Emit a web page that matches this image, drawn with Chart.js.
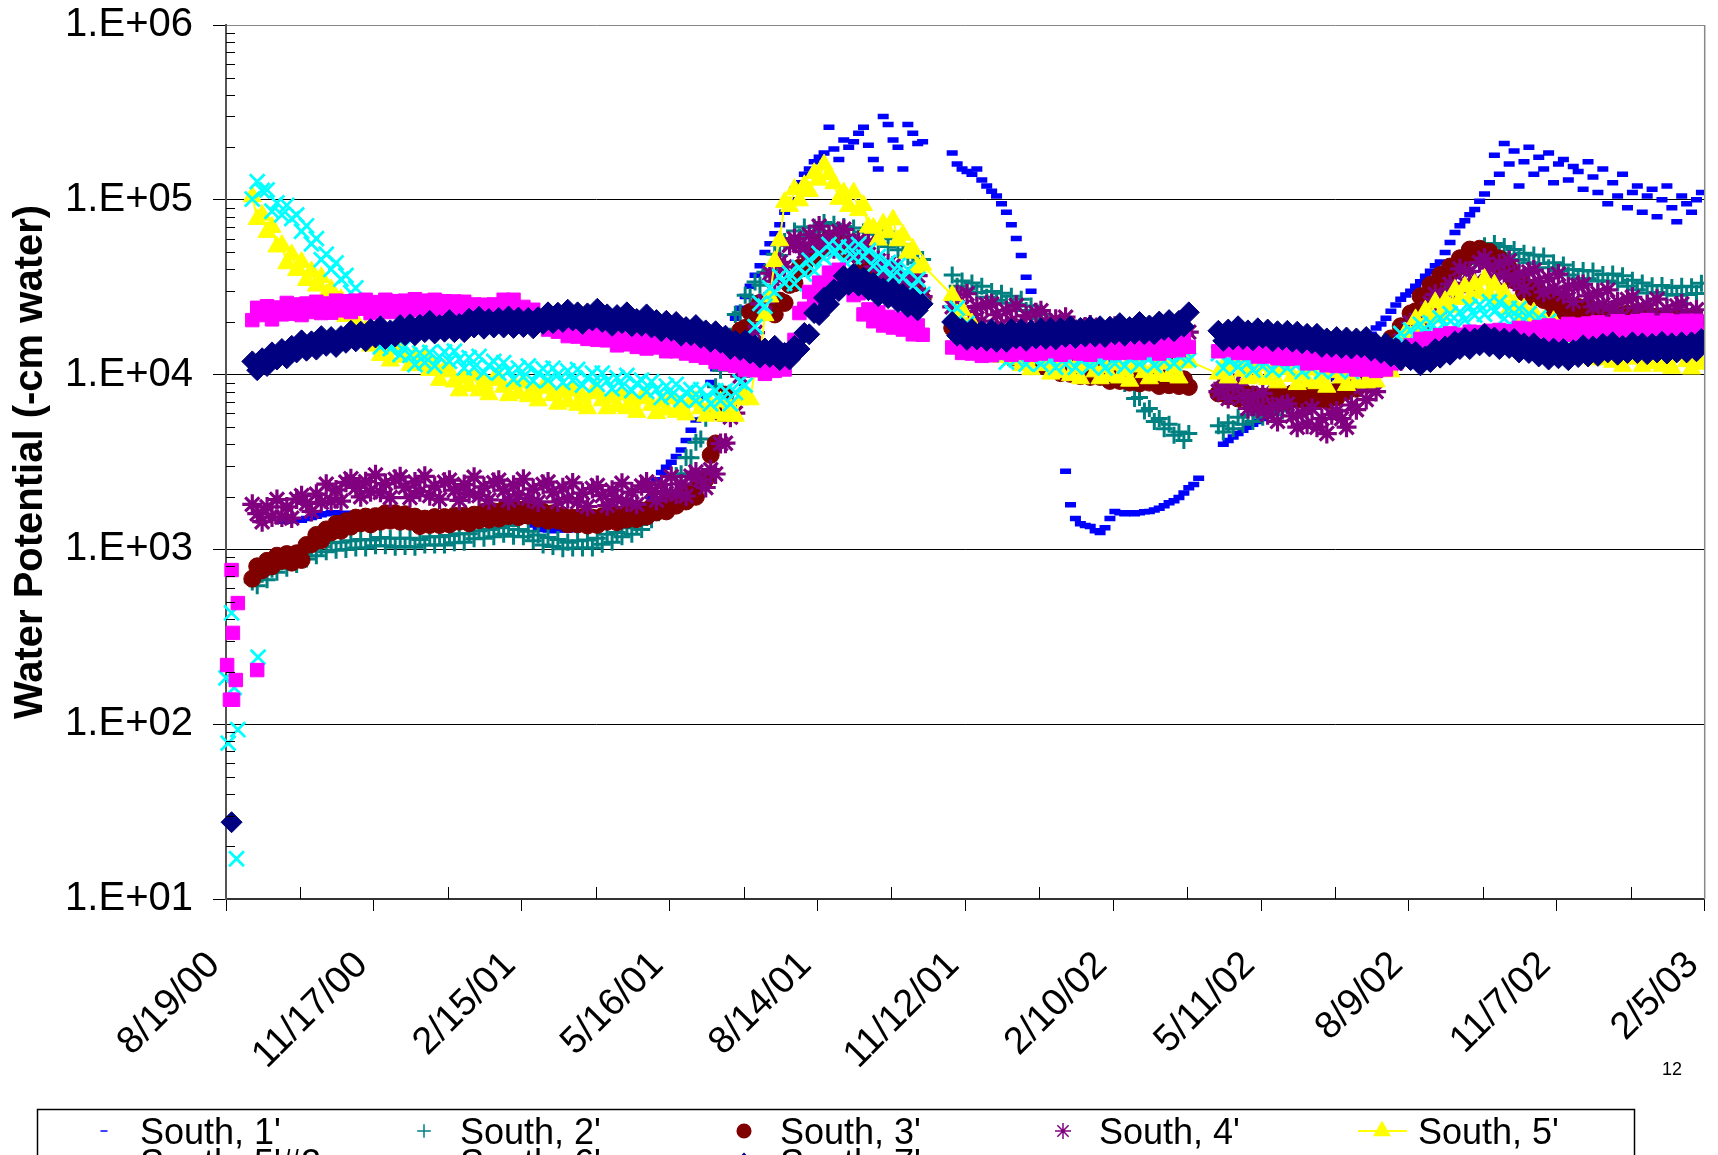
<!DOCTYPE html>
<html>
<head>
<meta charset="utf-8">
<title>Water Potential - South</title>
<script src="https://cdn.jsdelivr.net/npm/chart.js@4.4.1/dist/chart.umd.min.js"></script>
<style>
  html, body { margin: 0; padding: 0; background: #ffffff; }
  canvas { display: block; }
</style>
</head>
<body>
<canvas id="chart" width="1718" height="1155"></canvas>
<script>
// Day 0 is 8/19/00. Readings are stored one value per 3 days.
const READ_FIRST = 16, READ_STEP = 3;
const S1_FIRST = 34, S1_STEP = 3;

const xTickDays = [0, 90, 180, 270, 360, 450, 540, 630, 720, 810, 900];
const xTickLabels = ['8/19/00', '11/17/00', '2/15/01', '5/16/01', '8/14/01', '11/12/01',
                     '2/10/02', '5/11/02', '8/9/02', '11/7/02', '2/5/03'];
const yTickValues = [10, 100, 1000, 10000, 100000, 1000000];
const yTickLabels = ['1.E+01', '1.E+02', '1.E+03', '1.E+04', '1.E+05', '1.E+06'];
const seriesNames = ["South, 1'", "South, 2'", "South, 3'", "South, 4'", "South, 5'",
                     "South, 5'#2", "South, 6'", "South, 7'"];

// South, 1' (from day 34)
const south1 = [
  1450,1450,1460,1480,1470,1500,1520,1550,1580,1600,
  1620,1620,1600,1610,1590,1570,1560,1540,1520,1500,
  1500,1490,1500,1510,1520,1530,1540,1550,1560,1570,
  1580,1590,1600,1600,1610,1610,1600,1600,1610,1600,
  1590,1600,1610,1620,1640,1650,1650,1620,1580,1520,
  1450,1380,1330,1300,1290,1280,1290,1300,1290,1300,
  1310,1320,1330,1350,1380,1420,1460,1500,1540,1580,
  1620,1650,1680,1700,1720,2000,2500,2750,2950,3150,
  3400,3700,4200,4800,5500,6300,7500,9000,10800,12500,
  14500,17000,21000,24000,28000,32000,37000,42000,50000,56000,
  64000,72000,85000,100000,115000,125000,140000,150000,165000,175000,
  185000,260000,195000,170000,220000,200000,215000,240000,260000,205000,
  170000,150000,300000,270000,220000,200000,150000,270000,240000,210000,
  215000,null,null,null,null,null,185000,160000,150000,145000,
  140000,150000,130000,120000,112000,105000,95000,85000,72000,60000,
  48000,36000,30000,null,null,null,null,null,null,2800,
  1800,1500,1400,1370,1350,1280,1250,1330,1500,1650,
  1620,1600,1620,1600,1620,1640,1650,1680,1720,1780,
  1850,1900,1980,2100,2250,2350,2550,null,null,null,
  null,4000,4200,4400,4600,4800,5000,5200,5400,5600,
  5900,6200,6600,7000,7500,8000,8300,8500,8700,8800,
  9000,9200,9400,9600,9900,10200,10600,11000,11800,13000,
  15000,17000,18500,19500,21000,23000,25000,27000,28500,30000,
  32000,34000,36500,39000,42000,44000,50000,57000,65000,71000,
  76000,82000,88000,98000,108000,125000,180000,140000,210000,160000,
  190000,120000,165000,200000,140000,175000,150000,185000,125000,160000,
  170000,130000,155000,145000,115000,165000,135000,110000,150000,95000,
  125000,105000,140000,90000,110000,120000,85000,105000,115000,80000,
  100000,120000,90000,75000,105000,95000,85000,100000,110000
];

// South, 2' (from day 16)
const south2 = [
  650,620,720,670,770,740,850,780,890,820,
  950,880,1010,920,1040,970,1090,990,1100,1000,
  1120,1020,1140,1020,1130,1050,1170,1050,1160,1030,
  1160,1040,1160,1030,1140,1060,1180,1060,1180,1060,
  1200,1090,1230,1100,1230,1150,1280,1160,1300,1180,
  1330,1220,1370,1190,1300,1180,1270,1120,1210,1060,
  1170,1040,1140,1010,1100,1020,1120,1020,1130,1020,
  1160,1070,1220,1100,1250,1180,1330,1220,1390,1300,
  1520,1480,1780,1730,2080,2160,2650,2710,3360,3340,
  4100,4280,5620,6200,8530,10600,14800,16600,22100,22600,
  28400,28000,33900,32400,38500,39800,48800,48000,57800,55500,
  66200,61300,70000,62500,69700,65800,74200,66000,72500,63900,
  70400,62700,68900,60200,65500,59000,63600,56100,60900,54100,
  59900,51800,55100,47000,49900,43700,45600,null,null,null,
  null,null,37100,32000,34300,30900,33400,29500,32000,27700,
  29900,26600,29200,25600,28100,25200,27000,23300,24700,20900,
  22100,19000,20100,16900,17700,15600,16400,14000,14700,12700,
  13700,11900,12700,10800,11400,10200,10800,8900,9000,7300,
  7400,6200,6400,5400,5600,4900,5200,4500,4700,4200,
  4600,null,null,null,null,null,5100,4700,5300,4900,
  5700,5200,5900,5400,6000,5700,6400,5900,6700,6200,
  7100,6700,7600,7000,7900,7500,8500,7700,8700,7800,
  8700,8000,9000,8200,9400,9100,10600,10000,11600,11000,
  13100,12500,14800,14600,17700,18200,22300,21900,26300,25400,
  30500,29500,35000,33400,39500,38900,45600,43200,50400,47000,
  54600,49900,56200,49400,54100,48500,51900,45600,49400,43700,
  48300,43200,47700,40900,43700,39400,42400,37100,39900,35400,
  39400,35300,39200,34300,37400,34300,37600,33400,36800,32000,
  34700,30600,33400,29300,32200,29500,32300,28700,31500,28400,
  32000,28700,31800,29100,33300
];

// South, 3'
const south3 = [
  680,800,760,860,800,920,860,940,840,950,
  870,1060,1070,1210,1130,1300,1250,1400,1280,1450,
  1350,1520,1410,1540,1390,1550,1440,1610,1460,1610,
  1440,1590,1440,1540,1360,1500,1380,1530,1380,1530,
  1390,1560,1440,1560,1410,1580,1470,1640,1480,1650,
  1500,1690,1550,1700,1530,1690,1560,1700,1500,1640,
  1460,1610,1460,1560,1390,1520,1390,1530,1370,1520,
  1380,1550,1440,1580,1430,1590,1480,1650,1490,1670,
  1540,1750,1630,1810,1650,1870,1780,2020,1880,2140,
  2000,2440,2520,3470,4040,6030,7680,11700,13800,17900,
  18500,22800,22300,25700,24000,25000,22100,26500,25700,32600,
  33300,40800,40700,48300,47000,55100,53800,59900,54200,58300,
  51300,55700,49500,51500,44200,46800,41300,43500,37100,38900,
  33300,35500,31000,32600,28200,30200,26900,null,null,null,
  null,null,18500,19600,16900,17900,15800,17000,14700,15900,
  14100,15300,13600,14300,12500,13500,12300,13300,11700,12600,
  11200,12200,11000,11600,10200,11000,10100,11000,9800,10800,
  9700,10700,9700,10400,9200,10100,9200,10100,9000,9900,
  8900,9900,9000,9700,8600,9500,8700,9600,8600,9400,
  8500,null,null,null,null,null,7800,8500,7500,8200,
  7300,8000,7200,7700,6800,7500,6900,7700,6900,7700,
  7000,7800,7200,7700,6900,7600,7100,7900,7100,7900,
  7400,8500,8000,8900,8300,9500,9100,10800,10500,13100,
  13300,16100,16000,18900,18300,22400,23000,28100,27600,32600,
  31400,37100,35900,41500,39500,46300,45100,51900,48500,52500,
  46600,50400,44600,46200,39500,40600,34600,35500,29500,31500,
  27600,29900,26700,27500,23500,25500,23000,25100,22300,24400,
  21900,24400,22300,23300,20200,21800,19700,21900,20000,22300,
  20400,22800,20900,22300,19700,21500,19700,21700,19500,21200,
  19000,21200,19400,20000,16900
];

// South, 4'
const south4 = [
  1810,1600,1440,1750,1530,1930,1530,1750,1510,1940,
  2030,1830,1650,2070,1860,2360,1890,2190,1890,2420,
  2540,2260,2000,2440,2140,2670,2120,2380,1980,2510,
  2600,2270,1980,2430,2140,2620,2030,2300,1940,2420,
  2490,2180,1910,2350,2090,2590,2030,2280,1920,2410,
  2490,2180,1910,2330,2050,2520,1960,2220,1870,2350,
  2430,2130,1870,2250,1950,2400,1870,2100,1760,2230,
  2320,2030,1780,2180,1930,2390,1870,2130,1810,2310,
  2430,2150,1910,2350,2090,2610,2070,2370,2020,2620,
  2770,2490,2260,2860,2700,4030,4050,5710,6020,9810,
  13600,15800,17400,25400,26000,38000,34200,43900,41300,55000,
  59900,54900,50500,63100,56700,70700,55800,62700,52500,65900,
  67800,57900,49600,58300,49300,56900,41400,44900,36100,43100,
  41800,35600,30500,36000,30700,36800,27900,null,null,null,
  null,null,24400,28600,24200,29000,22100,24500,20200,25100,
  25400,22000,19100,23200,20300,24900,19400,21700,18100,22600,
  23200,20000,17400,20700,17700,21300,16200,18100,15100,18700,
  19200,16700,14600,17600,15300,18900,14700,16600,13900,17500,
  18100,15800,13900,16900,14700,18200,14200,16000,13300,16900,
  17500,null,null,null,null,null,8000,8900,7300,8900,
  8800,7500,6400,7500,6400,7800,5900,6600,5400,6700,
  6800,5800,5000,6000,5200,6400,5000,5600,4600,5900,
  6200,5600,5000,6700,6300,8500,7200,8900,8000,11300,
  13000,12400,11700,15600,14900,19800,16700,20400,18500,25600,
  28800,26900,25200,32900,30700,40300,33300,39000,34000,43800,
  46300,40600,35700,42900,37200,44900,34200,37700,31000,38700,
  39600,34200,29600,35700,31200,37600,28800,31800,26200,32400,
  32800,28200,24400,29200,25100,30500,23400,26000,21500,26900,
  27700,24000,20900,25100,21900,27000,21200,23700,19800,24700,
  25400,22300,19600,23500,20500
];

// South, 5'
const south5 = [
  104500,77400,81900,65300,69800,53900,55100,43200,48600,39500,
  44000,34700,38900,32200,36000,28800,30700,24300,27000,21600,
  23400,20300,17100,17900,14600,16200,12900,14000,12000,14100,
  14200,12600,11300,12800,11300,12900,10600,11200,9300,10700,
  10400,9100,8100,9600,8600,9900,8100,8900,7700,9300,
  9500,8500,7600,8800,7800,9000,7500,8200,7100,8400,
  8400,7600,6800,7900,7000,8100,6700,7400,6400,7800,
  8000,7100,6400,7400,6600,7700,6400,7100,6100,7300,
  7400,6700,6000,7000,6300,7300,6100,6700,5900,7000,
  7100,6400,5800,6700,6000,7000,5800,6500,5800,7200,
  7700,7200,10500,12900,21800,27900,44500,58500,97000,92000,
  115000,99000,121000,112000,142000,130000,159000,140000,124000,101000,
  110000,92000,110000,87000,93000,70000,69000,59000,73000,65000,
  77000,58500,63000,49700,52300,40900,42400,null,null,null,
  null,null,28400,22100,23400,18600,19600,15800,17800,14800,
  16400,14400,12600,14200,12200,13900,11300,12300,10700,12600,
  12600,11300,10100,11700,10300,12000,9900,11000,9500,11400,
  11600,10400,9500,11000,9800,11400,9600,10600,9200,11100,
  11300,10300,9500,11000,9900,11600,9800,10900,9600,11700,
  12000,null,null,null,null,null,10100,11100,9600,11500,
  11700,10500,9500,10900,9700,11300,9400,10400,9000,10700,
  10800,9800,8800,10200,9100,10700,8900,9800,8500,10300,
  10600,9600,8700,10100,9000,10700,9000,10200,9100,11200,
  11900,10400,13100,12900,17400,16700,20700,18500,23200,21200,
  25900,21800,26300,24400,30500,27000,31800,27200,32900,29300,
  35200,28400,32600,26700,29400,23700,25400,20700,23800,19900,
  22600,18000,20500,17500,20200,16300,17500,14100,16200,13600,
  15300,13600,12200,13900,12200,14200,11800,13000,11200,13400,
  13600,12300,11200,13000,11600,13500,11200,12400,10900,12900,
  13100,11900,10800,12700,11500
];

// South, 5'#2
const south5b = [
  101000,127000,113000,114000,86000,96000,82000,93000,78000,82000,
  66000,71000,56000,60000,45500,48800,40000,43600,35200,36900,
  29400,31300,24400,24000,17300,18000,14400,16600,14100,15400,
  13000,14600,12900,11400,13300,11700,13400,11200,12600,13500,
  11900,13600,12300,10900,12500,11000,12700,10300,11300,11900,
  10200,11700,10500,9400,10900,9700,11200,9200,10200,10800,
  9300,10900,10000,9000,10500,9300,10700,8700,9600,10200,
  8800,10200,9200,8300,9600,8600,9900,8100,8900,9300,
  8000,9100,8200,7400,8600,7600,8800,7200,7900,8200,
  7100,8200,7400,6800,8100,7100,8100,6800,7900,9100,
  8700,15100,18800,25600,24600,31300,29800,36500,33300,38000,
  33100,41000,37600,45200,39100,49300,46500,55600,49400,54000,
  45100,53500,47000,55600,47300,51400,41900,47400,39900,43900,
  36800,42100,35700,39800,31900,35000,28800,null,null,null,
  null,null,22600,24000,18200,19600,15800,17400,14300,15500,
  13000,14700,13200,11800,13800,12200,14000,11500,12600,13300,
  11500,13300,12200,11000,12900,11500,13300,11000,12200,12900,
  11200,13000,12000,10900,12900,11600,13500,11200,12400,13200,
  11500,13400,12400,11300,13400,12000,14000,11600,12900,13800,
  12100,null,null,null,null,null,13200,10900,12100,12800,
  11100,12800,11700,10600,12500,11200,12900,10600,11700,12500,
  10900,12600,11500,10400,12200,10900,12700,10400,11500,12300,
  10700,12400,11400,10400,12300,11100,13000,11000,12600,13900,
  12400,15300,14100,17200,15000,18000,16300,19400,17100,19800,
  17500,21100,18800,22300,19100,22800,20500,24500,21900,25100,
  22100,26100,23000,25900,20900,23900,20500,23800,20400,22300,
  18400,21100,17900,20200,16400,18600,15800,18200,15700,17300,
  14900,17000,15300,13800,16100,14300,16500,13700,15200,16100,
  14000,16300,15000,13700,16100,14500,16800,14000,15700,16700,
  14700,17200,15800,14600,17500
];

// South, 6'
const south6 = [
  20500,24100,21900,24600,20700,24200,22100,25700,22300,25200,
  21900,25500,22800,26100,22500,25500,22600,26500,23300,26300,
  22800,26500,23800,26800,22500,26000,23500,26800,22800,26300,
  23300,26500,23300,27000,23500,26500,23500,26800,22800,26300,
  23300,26200,22800,26100,22500,25200,22100,25100,21400,25200,
  22800,26800,24200,26800,22100,24400,21200,23500,19500,21400,
  18100,20300,17600,19700,16600,18600,16500,18700,16000,18100,
  15800,17900,15700,17500,14700,16700,14900,16800,14400,16200,
  14100,16200,14300,16100,13600,15300,13600,15400,13200,14800,
  12800,14400,12500,14000,11800,13100,11500,13100,11200,12400,
  10700,12100,10600,12000,10100,11700,10500,12200,10700,13800,
  15800,22500,23800,29700,27600,33600,32000,38300,34400,39800,
  35300,36400,28500,29200,22100,23600,20200,22700,19100,21400,
  18600,20900,18100,20200,17000,19100,16900,null,null,null,
  null,null,14300,15900,13300,14900,13200,15000,12800,14600,
  12900,15000,13300,15200,13000,14900,13300,15200,13000,14900,
  13200,15300,13600,15300,13000,14900,13400,15300,13200,14900,
  13000,15200,13600,15600,13300,15100,13300,15400,13400,15300,
  13300,15400,13800,15700,13200,15200,13700,15900,13800,16000,
  14400,null,null,null,null,null,13600,15800,13800,15400,
  13300,15100,13300,15000,12700,14300,12700,14500,12400,14000,
  12300,14000,12400,13800,11600,13100,11700,13300,11300,12800,
  11200,12700,11200,12600,10700,12100,10700,12200,10500,12100,
  10700,12600,11600,13800,12400,14700,13600,16000,14000,16100,
  14400,16800,15000,17200,14700,16900,15200,17600,15300,17500,
  15300,17800,15800,18000,15500,17700,16000,18500,16000,18300,
  16200,18700,16700,19100,16400,18800,16900,19500,16900,19300,
  17000,19600,17500,19900,17000,19500,17500,20200,17500,19900,
  17500,20200,18000,20500,17500,19800,17700,20400,17700,20100,
  17600,20300,18100,20300,17200
];

// South, 7'
const south7 = [
  11900,10600,12400,11200,13400,12200,14000,12400,14600,13400,
  15700,13700,15500,13900,16600,14600,16400,14400,16600,15200,
  17800,15500,17600,15500,18200,16300,18900,16000,17900,16500,
  19200,16800,19400,16800,19300,17500,20300,17200,19200,17600,
  20500,17500,19500,17500,20900,18600,21400,18300,20800,18600,
  21100,18600,21500,18500,21200,18700,21100,18400,21300,19500,
  22700,19700,22600,20000,23500,20400,22700,19500,22400,20400,
  23800,20000,22100,19000,21900,19700,22700,18900,20800,19000,
  22100,18600,20500,17700,20300,17800,20000,16700,18700,16800,
  19200,16200,17900,15400,17700,15200,16700,14000,15600,13800,
  15700,13200,14700,12500,14100,12600,14600,12100,13300,12200,
  14600,14000,17300,17000,22500,21900,27500,25300,30700,30100,
  36700,32600,37800,32200,35800,30400,33500,28100,31200,27400,
  30800,26000,28900,24400,27300,23300,25400,null,null,null,
  null,null,20000,16700,18400,15800,18200,15900,17800,15600,
  18100,15400,17300,15400,18200,16100,18100,15600,17900,16100,
  18400,16000,18400,15900,18400,16400,18900,16200,18500,16500,
  18900,16500,18900,16400,18800,17000,19700,16700,18700,17100,
  20000,17000,19100,17000,20100,18000,20500,17700,20300,18800,
  22700,null,null,null,null,null,17800,15600,18100,15900,
  18900,16000,17900,15700,18400,16200,18100,15500,17700,15800,
  17800,15400,17600,15100,17100,15100,17100,14400,16100,14400,
  16400,14200,16300,14100,16100,14300,16400,13700,15100,13300,
  15100,12700,14200,12100,13900,12100,13500,11300,12700,11800,
  14000,12500,14500,13000,15500,14000,16200,14000,16100,14700,
  17100,14500,16300,14000,16100,14200,16000,13400,15100,13300,
  15100,12700,14200,12200,14100,12400,14000,12100,13800,12600,
  14700,12700,14500,12800,15000,13400,15300,13000,14600,13300,
  15300,13300,15100,13100,15000,13400,15400,13200,15100,13400,
  15300,13400,15300,13600,16000
];

// First readings after installation: [day, value]
const south5bEarly = [[0, 184], [1.3, 78], [3.4, 433], [5, 162], [6.4, 17], [7.2, 93], [19.5, 242]];
const south6Early = [[0.7, 218], [2.4, 138], [3.4, 762], [4.2, 333], [4.3, 138], [6, 179], [7.2, 493], [19, 204]];
const south7Early = [[3.4, 27.5]];

// Marker look per series, in legend order
const seriesStyle = [
  { color: '#0000FF', pointStyle: 'line',     radius: 5.5,  borderWidth: 5.5, order: 8 },
  { color: '#008080', pointStyle: 'cross',    radius: 8.5,  borderWidth: 3,   order: 7 },
  { color: '#800000', pointStyle: 'circle',   radius: 8.5,  borderWidth: 1,   order: 6 },
  { color: '#800080', pointStyle: 'star',     radius: 10,   borderWidth: 3.2, order: 5 },
  { color: '#FFFF00', pointStyle: 'triangle', radius: 10.5, borderWidth: 1,   order: 4, line: true },
  { color: '#00FFFF', pointStyle: 'crossRot', radius: 10.5, borderWidth: 2.8, order: 3 },
  { color: '#FF00FF', pointStyle: 'rect',     radius: 9.5,  borderWidth: 1,   order: 2 },
  { color: '#000080', pointStyle: 'rectRot',  radius: 10.5, borderWidth: 1,   order: 1 }
];

function onGrid(values, first, step) {
  return values.map((v, i) => ({ x: first + i * step, y: v }));
}
function pairs(list) {
  return list.map(([d, v]) => ({ x: d, y: v }));
}

const seriesData = [
  onGrid(south1, S1_FIRST, S1_STEP),
  onGrid(south2, READ_FIRST, READ_STEP),
  onGrid(south3, READ_FIRST, READ_STEP),
  onGrid(south4, READ_FIRST, READ_STEP),
  onGrid(south5, READ_FIRST, READ_STEP),
  pairs(south5bEarly).concat(onGrid(south5b, READ_FIRST, READ_STEP)),
  pairs(south6Early).concat(onGrid(south6, READ_FIRST, READ_STEP)),
  pairs(south7Early).concat(onGrid(south7, READ_FIRST, READ_STEP))
];

const datasets = seriesData.map((data, k) => {
  const s = seriesStyle[k];
  return {
    label: seriesNames[k],
    data: data,
    pointStyle: s.pointStyle,
    pointRadius: s.radius,
    pointHoverRadius: s.radius,
    pointBorderWidth: s.borderWidth,
    pointBackgroundColor: s.color,
    pointBorderColor: s.color,
    borderColor: s.color,
    backgroundColor: s.color,
    borderWidth: s.line ? 2 : 0,
    showLine: !!s.line,
    spanGaps: true,
    order: s.order,
    clip: { left: 30, top: 30, right: 0, bottom: 30 }
  };
});

const FONT = "'Liberation Sans', Arial, Helvetica, sans-serif";
Chart.defaults.font.family = FONT;
Chart.defaults.color = '#000000';

// Inside minor ticks, plot frame, legend box and page number
const decorations = {
  id: 'decorations',
  afterDraw(chart) {
    const { ctx, chartArea: a, scales: { x, y } } = chart;
    ctx.save();

    ctx.strokeStyle = '#000000';
    ctx.lineWidth = 1;
    ctx.beginPath();
    for (let d = 10; d < 1e6; d *= 10) {
      for (let k = 2; k <= 9; k++) {
        const py = Math.round(y.getPixelForValue(k * d)) + 0.5;
        ctx.moveTo(a.left, py);
        ctx.lineTo(a.left + 9, py);
      }
    }
    for (let m = 45; m < 900; m += 90) {
      const px = Math.round(x.getPixelForValue(m)) + 0.5;
      ctx.moveTo(px, a.bottom);
      ctx.lineTo(px, a.bottom - 12);
    }
    ctx.stroke();

    ctx.strokeStyle = '#888888';
    ctx.lineWidth = 1.5;
    ctx.beginPath();
    ctx.moveTo(a.right, a.top);
    ctx.lineTo(a.right, a.bottom);
    ctx.stroke();

    // legend
    ctx.strokeStyle = '#000000';
    ctx.lineWidth = 1.5;
    ctx.strokeRect(37.5, 1109.5, 1597, 120);

    const colX = [140, 460, 780, 1099, 1418];
    const rowBase = [1144, 1175];
    ctx.font = '36px ' + FONT;
    ctx.fillStyle = '#000000';
    ctx.textBaseline = 'alphabetic';
    ctx.textAlign = 'left';
    seriesNames.forEach((name, k) => {
      const col = k % 5, row = Math.floor(k / 5);
      const tx = colX[col], base = rowBase[row];
      const my = base - 13;
      const s = seriesStyle[k];
      ctx.save();
      ctx.fillStyle = s.color;
      ctx.strokeStyle = s.color;
      if (s.line) {
        ctx.lineWidth = 2;
        ctx.beginPath();
        ctx.moveTo(tx - 60, my);
        ctx.lineTo(tx - 11, my);
        ctx.stroke();
      }
      Chart.helpers.drawPoint(ctx, {
        pointStyle: s.pointStyle,
        radius: s.pointStyle === 'line' ? 3.5 : s.radius * 0.8,
        rotation: 0,
        borderWidth: s.pointStyle === 'line' ? 4 : Math.min(s.borderWidth, 2.5)
      }, tx - 36, my);
      ctx.restore();
      ctx.fillText(name, tx, base);
    });

    ctx.font = '18px ' + FONT;
    ctx.fillText('12', 1662, 1075);
    ctx.restore();
  }
};

new Chart(document.getElementById('chart'), {
  type: 'scatter',
  data: { datasets: datasets },
  options: {
    responsive: false,
    maintainAspectRatio: false,
    animation: false,
    devicePixelRatio: 1,
    events: [],
    layout: { padding: { top: 25, right: 3, bottom: 0, left: 0 } },
    plugins: {
      legend: { display: false },
      tooltip: { enabled: false },
      title: { display: false }
    },
    scales: {
      x: {
        type: 'linear',
        position: 'bottom',
        min: 0,
        max: 900,
        afterBuildTicks(scale) {
          scale.ticks = xTickDays.map(v => ({ value: v }));
        },
        ticks: {
          autoSkip: false,
          maxRotation: 45,
          minRotation: 45,
          labelOffset: -12,
          padding: 32,
          color: '#000000',
          font: { size: 38 },
          callback: (value, index) => xTickLabels[index]
        },
        grid: {
          drawOnChartArea: false,
          drawTicks: true,
          tickLength: 12,
          color: '#000000',
          tickColor: '#000000',
          lineWidth: 1
        },
        border: { display: true, color: '#333333', width: 2 },
        afterFit(scale) {
          scale.height = 256;
          scale.paddingLeft = 0;
          scale.paddingRight = 0;
        }
      },
      y: {
        type: 'logarithmic',
        position: 'left',
        min: 10,
        max: 1000000,
        afterBuildTicks(scale) {
          scale.ticks = yTickValues.map(v => ({ value: v, major: true }));
        },
        ticks: {
          autoSkip: false,
          padding: 20,
          color: '#000000',
          font: { size: 40 },
          callback: (value, index) => yTickLabels[index]
        },
        grid: {
          drawOnChartArea: true,
          drawTicks: true,
          tickLength: 13,
          lineWidth: 1,
          color: c => (c.tick && c.tick.value === 1000000) ? '#888888' : '#000000',
          tickColor: '#000000'
        },
        border: { display: true, color: '#555555', width: 2 },
        title: {
          display: true,
          text: 'Water Potential (-cm water)',
          color: '#000000',
          font: { size: 40, weight: 'bold' },
          padding: { top: 7, bottom: 0 }
        },
        afterFit(scale) {
          scale.width = 226;
          scale.paddingTop = 0;
          scale.paddingBottom = 0;
        }
      }
    }
  },
  plugins: [decorations]
});
</script>
</body>
</html>
